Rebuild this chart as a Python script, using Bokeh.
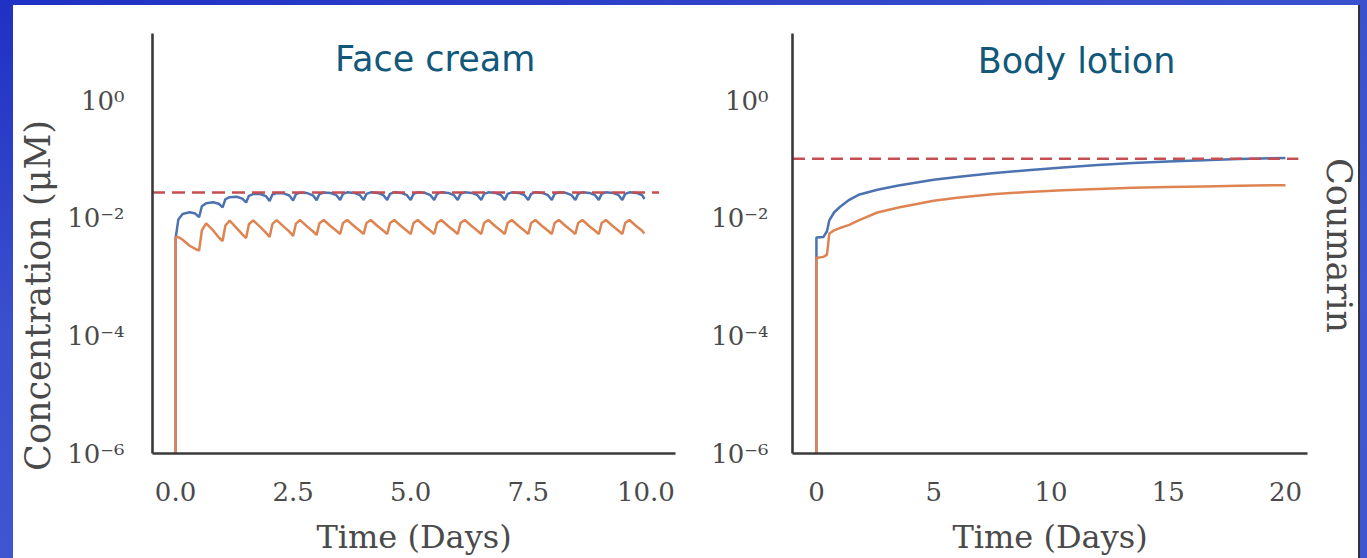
from math import pi

from bokeh.plotting import figure
from bokeh.models import Label, CustomJSTickFormatter, FixedTicker, Spacer
from bokeh.layouts import row, column
from bokeh.embed import file_html
from bokeh.resources import INLINE

# ---------------- data ----------------
PANEL_TITLES = ["Face cream", "Body lotion"]
SIDE_LABEL = "Coumarin"
Y_LABEL = "Concentration (\u03bcM)"
X_LABEL = "Time (Days)"

Y_TICKS = [1e-6, 1e-4, 1e-2, 1e0]
Y_TICK_LABELS = ["10\u207b\u2076", "10\u207b\u2074", "10\u207b\u00b2", "10\u2070"]

FACE_X_TICKS = [0, 2.5, 5, 7.5, 10]
FACE_X_TICK_LABELS = ["0.0", "2.5", "5.0", "7.5", "10.0"]
BODY_X_TICKS = [0, 5, 10, 15, 20]
BODY_X_TICK_LABELS = ["0", "5", "10", "15", "20"]

# Face cream: twice-daily application over 10 days
FACE_T = [
    0.00, 0.00, 0.06, 0.15, 0.30, 0.42,
    0.50, 0.56, 0.65, 0.80, 0.92,
    1.00, 1.06, 1.15, 1.30, 1.42,
    1.50, 1.56, 1.65, 1.80, 1.92,
    2.00, 2.06, 2.15, 2.30, 2.42,
    2.50, 2.56, 2.65, 2.80, 2.92,
    3.00, 3.06, 3.15, 3.30, 3.42,
    3.50, 3.56, 3.65, 3.80, 3.92,
    4.00, 4.06, 4.15, 4.30, 4.42,
    4.50, 4.56, 4.65, 4.80, 4.92,
    5.00, 5.06, 5.15, 5.30, 5.42,
    5.50, 5.56, 5.65, 5.80, 5.92,
    6.00, 6.06, 6.15, 6.30, 6.42,
    6.50, 6.56, 6.65, 6.80, 6.92,
    7.00, 7.06, 7.15, 7.30, 7.42,
    7.50, 7.56, 7.65, 7.80, 7.92,
    8.00, 8.06, 8.15, 8.30, 8.42,
    8.50, 8.56, 8.65, 8.80, 8.92,
    9.00, 9.06, 9.15, 9.30, 9.42,
    9.50, 9.56, 9.65, 9.80, 9.92,
    9.97,
]
FACE_BLUE = [
    1e-7, 0.0045, 0.0095, 0.0118, 0.0126, 0.0120,
    0.0104, 0.0160, 0.0180, 0.0187, 0.0176,
    0.0153, 0.0210, 0.0228, 0.0232, 0.0215,
    0.0185, 0.0240, 0.0257, 0.0258, 0.0238,
    0.0196, 0.0252, 0.0268, 0.0265, 0.0243,
    0.0200, 0.0256, 0.0272, 0.0267, 0.0245,
    0.0203, 0.0258, 0.0274, 0.0268, 0.0246,
    0.0204, 0.0259, 0.0275, 0.0269, 0.0246,
    0.0204, 0.0259, 0.0275, 0.0269, 0.0246,
    0.0204, 0.0259, 0.0275, 0.0269, 0.0246,
    0.0204, 0.0259, 0.0275, 0.0269, 0.0246,
    0.0204, 0.0259, 0.0275, 0.0269, 0.0246,
    0.0204, 0.0259, 0.0275, 0.0269, 0.0246,
    0.0204, 0.0259, 0.0275, 0.0269, 0.0246,
    0.0204, 0.0259, 0.0275, 0.0269, 0.0246,
    0.0204, 0.0259, 0.0275, 0.0269, 0.0246,
    0.0204, 0.0259, 0.0275, 0.0269, 0.0246,
    0.0204, 0.0259, 0.0275, 0.0269, 0.0246,
    0.0204, 0.0259, 0.0275, 0.0269, 0.0246,
    0.0204, 0.0259, 0.0275, 0.0269, 0.0246,
    0.0212,
]
FACE_ORANGE = [
    1e-7, 0.0047, 0.0048, 0.0043, 0.0034, 0.0030,
    0.0028, 0.0062, 0.0082, 0.0062, 0.0047,
    0.0041, 0.0075, 0.0091, 0.0068, 0.0053,
    0.0046, 0.0079, 0.0092, 0.0071, 0.0057,
    0.0048, 0.0080, 0.0093, 0.0072, 0.0059,
    0.0050, 0.0081, 0.0093, 0.0072, 0.0060,
    0.0052, 0.0082, 0.0093, 0.0073, 0.0061,
    0.0054, 0.0083, 0.0093, 0.0073, 0.0061,
    0.0054, 0.0083, 0.0093, 0.0073, 0.0061,
    0.0054, 0.0083, 0.0093, 0.0073, 0.0061,
    0.0054, 0.0083, 0.0093, 0.0073, 0.0061,
    0.0054, 0.0083, 0.0093, 0.0073, 0.0061,
    0.0054, 0.0083, 0.0093, 0.0073, 0.0061,
    0.0054, 0.0083, 0.0093, 0.0073, 0.0061,
    0.0054, 0.0083, 0.0093, 0.0073, 0.0061,
    0.0054, 0.0083, 0.0093, 0.0073, 0.0061,
    0.0054, 0.0083, 0.0093, 0.0073, 0.0061,
    0.0054, 0.0083, 0.0093, 0.0073, 0.0061,
    0.0054, 0.0083, 0.0093, 0.0073, 0.0061,
    0.0054, 0.0083, 0.0093, 0.0073, 0.0061,
    0.0055,
]
FACE_LIMIT = 0.0273
FACE_LIMIT_T = [-0.5, 10.28]

# Body lotion: 20 days
BODY_T = [0.0, 0.0, 0.30, 0.45, 0.55, 0.75, 1.00, 1.40, 1.80, 2.60, 3.50, 5.00,
          6.00, 7.50, 9.00, 10.5, 12.0, 13.5, 15.0, 16.5, 18.0, 20.0]
BODY_BLUE = [1e-7, 0.0047, 0.0048, 0.0060, 0.0092, 0.0125, 0.0155, 0.0205,
             0.0250, 0.0305, 0.0360, 0.0450, 0.0500, 0.0580, 0.0655, 0.0730,
             0.0800, 0.0865, 0.0920, 0.0970, 0.1010, 0.1060]
BODY_ORANGE = [1e-7, 0.0021, 0.0022, 0.0024, 0.0055, 0.0062, 0.0068, 0.0077,
               0.0092, 0.0125, 0.0152, 0.0198, 0.0222, 0.0255, 0.0280, 0.0300,
               0.0315, 0.0328, 0.0338, 0.0347, 0.0355, 0.0365]
BODY_LIMIT = 0.102
BODY_LIMIT_T = [-1.0, 20.55]

# ---------------- style ----------------
BLUE = "#4c72b0"
ORANGE = "#dd8452"
RED = "#c44e52"
AX = "#3a3a3a"
TXT = "#4a4a4a"
TITLE_C = "#12587a"
SERIF = "DejaVu Serif"
H = 553

TICK_JS = """
let best = -1, bd = 1e9;
for (let i = 0; i < vals.length; i++) {
  const d = logscale ? Math.abs(Math.log10(vals[i]) - Math.log10(tick)) : Math.abs(vals[i] - tick);
  if (d < bd) { bd = d; best = i; }
}
return (best >= 0 && bd < 1e-6) ? labs[best] : "";
"""


def style(p, xticks, xlabels, ylab_standoff):
    p.background_fill_color = "white"
    p.border_fill_color = "white"
    p.outline_line_color = None
    p.xgrid.visible = False
    p.ygrid.visible = False
    p.xaxis.ticker = FixedTicker(ticks=xticks)
    p.xaxis.formatter = CustomJSTickFormatter(
        args=dict(vals=xticks, labs=xlabels, logscale=False), code=TICK_JS)
    p.yaxis.ticker = FixedTicker(ticks=Y_TICKS)
    p.yaxis.formatter = CustomJSTickFormatter(
        args=dict(vals=Y_TICKS, labs=Y_TICK_LABELS, logscale=True), code=TICK_JS)
    for ax in (p.xaxis[0], p.yaxis[0]):
        ax.axis_line_color = AX
        ax.axis_line_width = 2.6
        ax.major_tick_line_color = None
        ax.minor_tick_line_color = None
        ax.major_tick_out = 0
        ax.major_tick_in = 0
        ax.minor_tick_out = 0
        ax.major_label_text_font = SERIF
        ax.major_label_text_font_size = "26px"
        ax.major_label_text_color = TXT
    p.xaxis.major_label_standoff = 28
    p.yaxis.major_label_standoff = ylab_standoff
    p.xaxis.axis_label = X_LABEL
    p.xaxis.axis_label_text_font = SERIF
    p.xaxis.axis_label_text_font_size = "32px"
    p.xaxis.axis_label_text_font_style = "normal"
    p.xaxis.axis_label_text_color = TXT
    p.xaxis.axis_label_standoff = 14


def title_label(x, y, text):
    return Label(x=x, y=y, text=text, text_align="center", text_baseline="middle",
                 text_font="DejaVu Sans", text_font_size="35px",
                 text_color=TITLE_C)


def text_strip(width, text, x, y, angle, size):
    s = figure(width=width, height=H, x_range=(0, width), y_range=(H, 0),
               x_axis_location=None, y_axis_location=None,
               output_backend="svg", toolbar_location=None,
               min_border_left=0, min_border_right=0, min_border_top=0,
               min_border_bottom=0)
    s.frame_align = False
    s.grid.visible = False
    s.outline_line_color = None
    s.background_fill_color = "white"
    s.border_fill_color = "white"
    s.add_layout(Label(x=x, y=y, text=text, angle=angle, text_align="center",
                       text_baseline="middle", text_font=SERIF,
                       text_font_size=size, text_color=TXT))
    return s


# ---------------- left text strip: y label ----------------
s_left = text_strip(49, Y_LABEL, 24, 290, pi / 2, "35px")

# ---------------- left: face cream ----------------
p1 = figure(width=628, height=H, x_range=(-0.49, 10.63), y_range=(1e-6, 13.8),
            y_axis_type="log", output_backend="svg", toolbar_location=None,
            min_border_left=90, min_border_right=15, min_border_top=28,
            min_border_bottom=105)
style(p1, FACE_X_TICKS, FACE_X_TICK_LABELS, 28)
p1.line(FACE_T, FACE_BLUE, line_color=BLUE, line_width=2.5)
p1.line(FACE_T, FACE_ORANGE, line_color=ORANGE, line_width=2.5)
p1.line(FACE_LIMIT_T, [FACE_LIMIT, FACE_LIMIT], line_color=RED, line_width=2.5,
        line_dash="13 7")
p1.add_layout(title_label(5.52, 5.18, PANEL_TITLES[0]))

# ---------------- right: body lotion ----------------
p2 = figure(width=628, height=H, x_range=(-1.02, 20.94), y_range=(1e-6, 13.8),
            y_axis_type="log", output_backend="svg", toolbar_location=None,
            min_border_left=102, min_border_right=11, min_border_top=28,
            min_border_bottom=105)
style(p2, BODY_X_TICKS, BODY_X_TICK_LABELS, 24)
p2.line(BODY_T, BODY_BLUE, line_color=BLUE, line_width=2.5)
p2.line(BODY_T, BODY_ORANGE, line_color=ORANGE, line_width=2.5)
p2.line(BODY_LIMIT_T, [BODY_LIMIT, BODY_LIMIT], line_color=RED, line_width=2.5,
        line_dash="12 7")
p2.add_layout(title_label(11.09, 4.79, PANEL_TITLES[1]))

# ---------------- right text strip: compound ----------------
s_right = text_strip(40, SIDE_LABEL, 20, 240, -pi / 2, "35px")

panel = row(s_left, p1, p2, s_right, styles={"background": "white"})

layout = column(
    Spacer(height=5, width=1367),
    row(Spacer(width=13, height=H), panel,
        Spacer(width=9, height=H,
               styles={"background": "linear-gradient(to right, #333 0px, #333 2px, transparent 2px)"})),
    styles={"background": "linear-gradient(165deg, #1f30c4 0%, #3a4fcd 35%, #4257d1 70%, #3f54d0 100%)"},
)

open("out.html", "w").write(file_html(layout, INLINE))
